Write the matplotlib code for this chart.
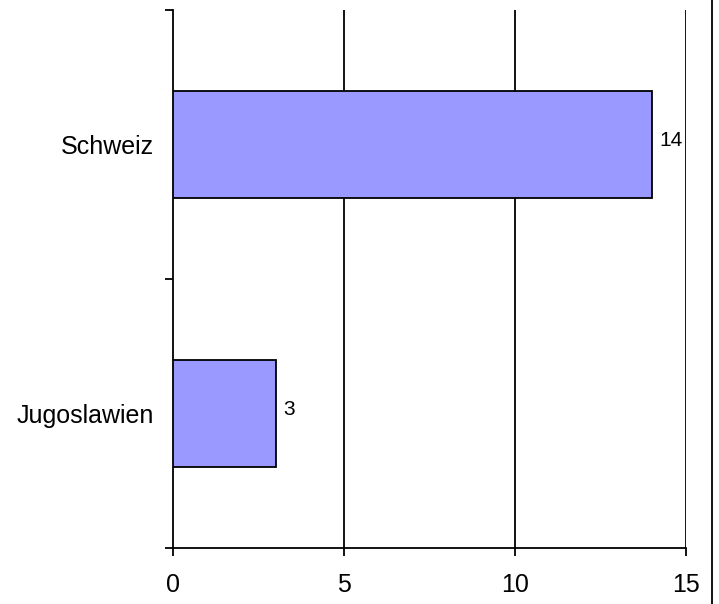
import matplotlib
matplotlib.use('Agg')
import matplotlib.pyplot as plt
from matplotlib.lines import Line2D

plt.rcParams['font.family'] = ['Liberation Sans', 'DejaVu Sans']

# data, bottom to top
countries = ['Jugoslawien', 'Schweiz']
counts = [3, 14]
x_ticks = [0, 5, 10, 15]

BAR_COLOR = '#9999FF'

fig = plt.figure(figsize=(7.19, 6.04), dpi=100)
ax = fig.add_axes([0.2406, 0.0927, 0.7135, 0.8907])

pos = list(range(len(countries)))
ax.barh(pos, counts, height=0.4, color=BAR_COLOR, edgecolor='black', linewidth=1.3, zorder=3)

# value labels right of the bars
for p, v in zip(pos, counts):
    ax.annotate(str(v), xy=(v, p), xytext=(8, 4), textcoords='offset pixels',
                ha='left', va='center', fontsize=15)

ax.set_xlim(0, 15)
ax.set_ylim(-0.5, len(countries) - 0.5)
ax.set_xticks(x_ticks)
ax.set_xticklabels([str(t) for t in x_ticks], fontsize=18)

# category boundaries get the ticks, labels sit in between
ax.set_yticks([p - 0.5 for p in pos] + [len(countries) - 0.5])
ax.set_yticklabels([])
ax.set_yticks(pos, minor=True)
ax.set_yticklabels(countries, minor=True, fontsize=18)
ax.tick_params(axis='y', which='minor', length=0, pad=14)
ax.tick_params(axis='y', which='major', length=6, width=1.3, direction='out')
ax.tick_params(axis='x', length=6, width=1.3, direction='out', pad=12)

for t in x_ticks[1:]:
    ax.axvline(t, color='black', linewidth=1.3, zorder=1)

for s in ['top', 'right']:
    ax.spines[s].set_visible(False)
for s in ['left', 'bottom']:
    ax.spines[s].set_linewidth(1.3)

# frame line at the right edge of the picture
fig.add_artist(Line2D([712 / 719, 712 / 719], [0, 1], color='black', linewidth=1.3,
                      transform=fig.transFigure))

fig.savefig('out.png', dpi=100)
